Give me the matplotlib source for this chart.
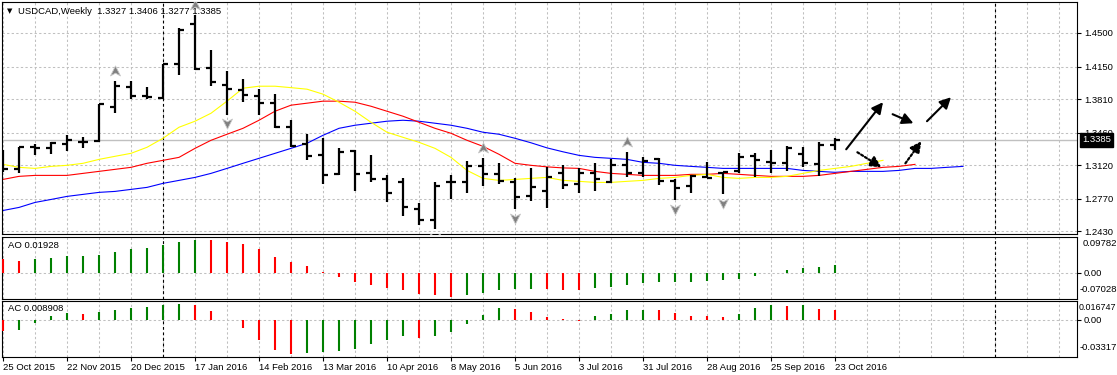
import matplotlib
matplotlib.use("Agg")
import matplotlib.pyplot as plt
import numpy as np
from matplotlib.path import Path
from matplotlib.transforms import blended_transform_factory, ScaledTranslation

# ---------------- data ----------------
symbol_title = "USDCAD,Weekly  1.3327 1.3406 1.3277 1.3385"

date_labels = ["25 Oct 2015", "22 Nov 2015", "20 Dec 2015", "17 Jan 2016", "14 Feb 2016",
               "13 Mar 2016", "10 Apr 2016", "8 May 2016", "5 Jun 2016", "3 Jul 2016",
               "31 Jul 2016", "28 Aug 2016", "25 Sep 2016", "23 Oct 2016"]

opens = [1.3172, 1.3078, 1.3308, 1.3304, 1.3339, 1.3360, 1.3371, 1.3726, 1.3935, 1.3841,
         1.3820, 1.4175, 1.4593, 1.4133, 1.3956, 1.3903, 1.3841, 1.3768, 1.3517, 1.3339,
         1.3224, 1.3026, 1.3266, 1.3036, 1.2973, 1.2942, 1.2660, 1.2555, 1.2942, 1.2942,
         1.3109, 1.3026, 1.2942, 1.2796, 1.2848, 1.3036, 1.2921, 1.3036, 1.2942, 1.3120,
         1.3036, 1.3182, 1.2953, 1.2900, 1.2994, 1.3036, 1.3057, 1.3214, 1.3151, 1.3141,
         1.3235, 1.3130, 1.3327]
highs = [1.3276, 1.3308, 1.3339, 1.3360, 1.3433, 1.3412, 1.3757, 1.3998, 1.3998, 1.3935,
         1.4175, 1.4551, 1.4687, 1.4321, 1.4102, 1.4018, 1.3914, 1.3862, 1.3590, 1.3444,
         1.3402, 1.3297, 1.3276, 1.3224, 1.3015, 1.2984, 1.2723, 1.2942, 1.3015, 1.3162,
         1.3193, 1.3141, 1.2984, 1.3088, 1.3099, 1.3120, 1.3088, 1.3141, 1.3182, 1.3256,
         1.3203, 1.3193, 1.2973, 1.3015, 1.3151, 1.3047, 1.3245, 1.3245, 1.3276, 1.3318,
         1.3308, 1.3360, 1.3406]
lows = [1.3047, 1.3036, 1.3224, 1.3235, 1.3266, 1.3297, 1.3360, 1.3663, 1.3809, 1.3809,
        1.3809, 1.4060, 1.4112, 1.3945, 1.3642, 1.3778, 1.3642, 1.3506, 1.3308, 1.3172,
        1.2921, 1.3015, 1.2848, 1.2942, 1.2733, 1.2587, 1.2493, 1.2451, 1.2764, 1.2827,
        1.2900, 1.2921, 1.2660, 1.2744, 1.2670, 1.2869, 1.2827, 1.2848, 1.2932, 1.2994,
        1.2994, 1.2911, 1.2754, 1.2827, 1.2984, 1.2817, 1.3036, 1.2994, 1.3036, 1.3057,
        1.3099, 1.3005, 1.3277]
closes = [1.3078, 1.3308, 1.3300, 1.3350, 1.3381, 1.3362, 1.3757, 1.3945, 1.3841, 1.3830,
          1.4175, 1.4530, 1.4123, 1.3987, 1.3914, 1.3851, 1.3768, 1.3517, 1.3318, 1.3214,
          1.3015, 1.3256, 1.3026, 1.2973, 1.2827, 1.2681, 1.2555, 1.2900, 1.2942, 1.3109,
          1.3026, 1.2953, 1.2785, 1.2890, 1.2994, 1.2911, 1.3036, 1.2973, 1.3120, 1.3036,
          1.3162, 1.2953, 1.2879, 1.3005, 1.2984, 1.3047, 1.3203, 1.3172, 1.3141, 1.3297,
          1.3141, 1.3329, 1.3385]

# Alligator lines (already shifted forward, one value per bar slot)
lips_yellow = [1.3130, 1.3099, 1.3088, 1.3109, 1.3120, 1.3141, 1.3182, 1.3214, 1.3245, 1.3308,
               1.3402, 1.3517, 1.3580, 1.3663, 1.3789, 1.3924, 1.3945, 1.3945, 1.3930, 1.3914,
               1.3862, 1.3778, 1.3684, 1.3569, 1.3465, 1.3412, 1.3360, 1.3297, 1.3203, 1.3067,
               1.2984, 1.2963, 1.2973, 1.2984, 1.2994, 1.2963, 1.2953, 1.2942, 1.2942, 1.2953,
               1.2963, 1.2984, 1.2994, 1.3015, 1.3026, 1.2994, 1.2984, 1.2994, 1.2994, 1.3005,
               1.3036, 1.3067, 1.3088, 1.3109, 1.3141, 1.3172]
teeth_red = [1.2973, 1.3005, 1.3015, 1.3015, 1.3015, 1.3036, 1.3057, 1.3078, 1.3099, 1.3141,
             1.3172, 1.3203, 1.3297, 1.3381, 1.3444, 1.3506, 1.3590, 1.3684, 1.3747, 1.3768,
             1.3789, 1.3789, 1.3778, 1.3736, 1.3684, 1.3632, 1.3569, 1.3506, 1.3454, 1.3381,
             1.3318, 1.3235, 1.3141, 1.3120, 1.3104, 1.3093, 1.3088, 1.3057, 1.3036, 1.3026,
             1.3015, 1.3015, 1.3015, 1.3026, 1.3026, 1.3036, 1.3026, 1.3015, 1.3005, 1.3005,
             1.3005, 1.3015, 1.3036, 1.3057, 1.3078, 1.3099, 1.3109, 1.3130]
jaw_blue = [1.2649, 1.2681, 1.2733, 1.2764, 1.2796, 1.2817, 1.2838, 1.2848, 1.2869, 1.2890,
            1.2932, 1.2963, 1.2994, 1.3036, 1.3088, 1.3141, 1.3193, 1.3245, 1.3297, 1.3350,
            1.3433, 1.3506, 1.3538, 1.3559, 1.3580, 1.3590, 1.3580, 1.3559, 1.3538, 1.3506,
            1.3465, 1.3444, 1.3402, 1.3355, 1.3302, 1.3261, 1.3224, 1.3203, 1.3193, 1.3182,
            1.3151, 1.3141, 1.3120, 1.3109, 1.3099, 1.3088, 1.3088, 1.3088, 1.3088, 1.3088,
            1.3067, 1.3057, 1.3047, 1.3057, 1.3057, 1.3057, 1.3067, 1.3088, 1.3088, 1.3099,
            1.3109]

fractal_up_bars = [7, 12, 30, 39]
fractal_down_bars = [14, 27, 32, 42, 45]

ao_values = [0.0361, 0.0314, 0.0361, 0.0399, 0.0452, 0.0458, 0.0485, 0.0570, 0.0627, 0.0675,
             0.0741, 0.0827, 0.0884, 0.0880, 0.0827, 0.0770, 0.0627, 0.0428, 0.0285, 0.0171,
             0.0010, -0.0133, -0.0257, -0.0333, -0.0428, -0.0475, -0.0570, -0.0618, -0.0656, -0.0618,
             -0.0560, -0.0475, -0.0447, -0.0446, -0.0450, -0.0466, -0.0470, -0.0428, -0.0400, -0.0333,
             -0.0285, -0.0262, -0.0256, -0.0250, -0.0228, -0.0209, -0.0162, -0.0086, -0.0020, 0.0067,
             0.0114, 0.0143, 0.01928]
ac_values = [-0.0102, -0.0096, -0.0030, 0.0033, 0.0060, 0.0054, 0.0069, 0.0090, 0.0108, 0.0114,
             0.0129, 0.0141, 0.0135, 0.0078, -0.0003, -0.0072, -0.0185, -0.0269, -0.0305, -0.0296,
             -0.0293, -0.0278, -0.0260, -0.0215, -0.0180, -0.0150, -0.0161, -0.0144, -0.0108, -0.0036,
             0.0045, 0.0108, 0.0099, 0.0069, 0.0024, 0.0003, -0.0012, 0.0030, 0.0055, 0.0086,
             0.0089, 0.0085, 0.0062, 0.0030, 0.0029, 0.0021, 0.0055, 0.0108, 0.0132, 0.0123,
             0.0134, 0.0099, 0.008908]
ao_range = (-0.07028, 0.09782)
ac_range = (-0.03317, 0.016747)

price_ticks = [1.2430, 1.2770, 1.3120, 1.3460, 1.3810, 1.4150, 1.4500]
price_tick_labels = ["1.2430", "1.2770", "1.3120", "1.3460", "1.3810", "1.4150", "1.4500"]

year_separator_bars = [10, 62]

# hand-drawn arrows: (bar, price) -> (bar, price)
solid_arrows = [((52.7, 1.3287), (55.0, 1.3778)),
                ((55.6, 1.3653), (56.9, 1.3559)),
                ((57.75, 1.3580), (59.25, 1.3830))]
dotted_arrows = [((53.4, 1.3256), (54.9, 1.3099)),
                 ((56.4, 1.3141), (57.4, 1.3371))]

# ---------------- layout ----------------
W, H, DPI = 1117, 375, 100
FONT = "Liberation Sans"
FS = 6.8
plt.rcParams["font.family"] = [FONT, "DejaVu Sans"]

fig = plt.figure(figsize=(W / DPI, H / DPI), dpi=DPI)
fig.patch.set_facecolor("white")


def rect(x0, y0, x1, y1):
    return [x0 / W, 1 - y1 / H, (x1 - x0) / W, (y1 - y0) / H]


ax = fig.add_axes(rect(2, 2, 1077, 233.5))
ax_ao = fig.add_axes(rect(2, 236.5, 1077, 298.5), sharex=ax)
ax_ac = fig.add_axes(rect(2, 301, 1077, 356.5), sharex=ax)

n = len(closes)
idx = np.arange(n)
XMIN, XMAX = -0.0625, 67.125
grid_kw = dict(color="#c0c0c0", lw=0.75, ls=(0, (2.2, 2.2)), zorder=0)

for a in (ax, ax_ao, ax_ac):
    a.set_xlim(XMIN, XMAX)
    for s in a.spines.values():
        s.set_linewidth(0.8)
        s.set_color("black")
    for g in range(0, 68, 2):
        a.axvline(g, **grid_kw)
    for b in year_separator_bars:
        a.axvline(b, color="black", lw=0.8, ls=(0, (2.5, 2.5)), zorder=1)

# ---- main price panel ----
ax.set_ylim(1.24091, 1.48231)
for p in price_ticks:
    ax.axhline(p, **grid_kw)
ax.axhline(closes[-1], color="#c0c0c0", lw=1.0, zorder=0.5)

ax.plot(np.arange(len(jaw_blue)), jaw_blue, color="#0000ff", lw=0.8, zorder=2)
ax.plot(np.arange(len(teeth_red)), teeth_red, color="#ff0000", lw=0.8, zorder=2)
ax.plot(np.arange(len(lips_yellow)), lips_yellow, color="#ffff00", lw=0.8, zorder=2)

tick_w = 0.3
ax.vlines(idx, lows, highs, color="black", lw=1.6, zorder=3)
ax.hlines(opens, idx - tick_w, idx, color="black", lw=1.6, zorder=3)
ax.hlines(closes, idx, idx + tick_w, color="black", lw=1.6, zorder=3)

up_marker = Path([(0, 1), (0.9, -0.8), (0, -0.3), (-0.9, -0.8), (0, 1)],
                 [Path.MOVETO, Path.LINETO, Path.LINETO, Path.LINETO, Path.CLOSEPOLY])
down_marker = Path([(0, -1), (0.9, 0.8), (0, 0.3), (-0.9, 0.8), (0, -1)],
                   [Path.MOVETO, Path.LINETO, Path.LINETO, Path.LINETO, Path.CLOSEPOLY])
ax.plot(fractal_up_bars, [highs[i] + 0.0110 for i in fractal_up_bars], ls="none",
        marker=up_marker, ms=8, mfc="#808080", mec="#c8c8c8", mew=0.6, zorder=4)
ax.plot(fractal_down_bars, [lows[i] - 0.0085 for i in fractal_down_bars], ls="none",
        marker=down_marker, ms=8, mfc="#808080", mec="#c8c8c8", mew=0.6, zorder=4)

for (s, e) in solid_arrows:
    ax.annotate("", xy=e, xytext=s,
                arrowprops=dict(arrowstyle="-|>,head_length=0.55,head_width=0.28",
                                color="black", lw=1.5, mutation_scale=12,
                                shrinkA=0, shrinkB=0), zorder=5)
for (s, e) in dotted_arrows:
    ax.annotate("", xy=e, xytext=s,
                arrowprops=dict(arrowstyle="-|>,head_length=0.55,head_width=0.28",
                                color="black", lw=1.6, ls=(0, (1, 1)), mutation_scale=12,
                                shrinkA=0, shrinkB=0), zorder=5)

ax.set_yticks(price_ticks)
ax.set_yticklabels(price_tick_labels)
ax.tick_params(axis="y", left=False, labelleft=False, right=True, labelright=True,
               length=3, width=0.8, pad=2, labelsize=FS)
ax.tick_params(axis="x", bottom=False, labelbottom=False)

trans = blended_transform_factory(ax.transAxes, ax.transData)
ax.text(1.0, closes[-1], f"{closes[-1]:.4f}", color="white", fontsize=FS,
        ha="left", va="center", clip_on=False, zorder=10,
        transform=trans + ScaledTranslation(3.5 / 72, 0, fig.dpi_scale_trans),
        bbox=dict(boxstyle="square,pad=0.25", fc="black", ec="black"))

ax.text(5 / 1075, 1 - 9 / 231.5, "\u25bc", transform=ax.transAxes, fontsize=5,
        ha="left", va="center", family=["DejaVu Sans"])
ax.text(16 / 1075, 1 - 9 / 231.5, symbol_title, transform=ax.transAxes, fontsize=FS,
        ha="left", va="center")

# ---- AO panel ----
ao_colors = ["#ff0000"] + ["#008000" if ao_values[i] > ao_values[i - 1] else "#ff0000"
                           for i in range(1, n)]
ax_ao.set_ylim(*ao_range)
ax_ao.axhline(0, **grid_kw)
ax_ao.vlines(idx, 0, ao_values, colors=ao_colors, lw=1.5, zorder=3)
ax_ao.set_yticks([0.0])
ax_ao.set_yticklabels(["0.00"])
ax_ao.tick_params(axis="y", left=False, labelleft=False, right=True, labelright=True,
                  length=3, width=0.8, pad=2, labelsize=FS)
ax_ao.tick_params(axis="x", bottom=False, labelbottom=False)
ax_ao.text(1.0, 1.0, f"{ao_range[1]:.5f}", transform=ax_ao.transAxes + ScaledTranslation(4 / 72, -1.5 / 72, fig.dpi_scale_trans),
           ha="left", va="top", fontsize=FS, clip_on=False)
ax_ao.text(1.0, 0.0, f"{ao_range[0]:.5f}", transform=ax_ao.transAxes + ScaledTranslation(1.5 / 72, 3.5 / 72, fig.dpi_scale_trans),
           ha="left", va="bottom", fontsize=FS, clip_on=False)
ax_ao.text(6 / 1075, 0.86, f"AO {ao_values[-1]:.5f}", transform=ax_ao.transAxes,
           ha="left", va="center", fontsize=FS)

# ---- AC panel ----
ac_colors = ["#ff0000"] + ["#008000" if ac_values[i] > ac_values[i - 1] else "#ff0000"
                           for i in range(1, n)]
ax_ac.set_ylim(*ac_range)
ax_ac.axhline(0, **grid_kw)
ax_ac.vlines(idx, 0, ac_values, colors=ac_colors, lw=1.5, zorder=3)
ax_ac.set_yticks([0.0])
ax_ac.set_yticklabels(["0.00"])
ax_ac.tick_params(axis="y", left=False, labelleft=False, right=True, labelright=True,
                  length=3, width=0.8, pad=2, labelsize=FS)
ax_ac.text(1.0, 1.0, f"{ac_range[1]:.6f}", transform=ax_ac.transAxes + ScaledTranslation(1.5 / 72, -1.5 / 72, fig.dpi_scale_trans),
           ha="left", va="top", fontsize=6.4, clip_on=False)
ax_ac.text(1.0, 0.0, f"{ac_range[0]:.5f}", transform=ax_ac.transAxes + ScaledTranslation(1.5 / 72, 3.5 / 72, fig.dpi_scale_trans),
           ha="left", va="bottom", fontsize=FS, clip_on=False)
ax_ac.text(6 / 1075, 0.87, f"AC {ac_values[-1]:.6f}", transform=ax_ac.transAxes,
           ha="left", va="center", fontsize=FS)

date_pos = list(range(0, n, 4))
ax_ac.set_xticks(date_pos)
ax_ac.set_xticklabels(date_labels, ha="left")
ax_ac.tick_params(axis="x", bottom=True, labelbottom=True, length=3, width=0.8,
                  pad=1.5, labelsize=FS)

fig.savefig("out.png", dpi=DPI)
